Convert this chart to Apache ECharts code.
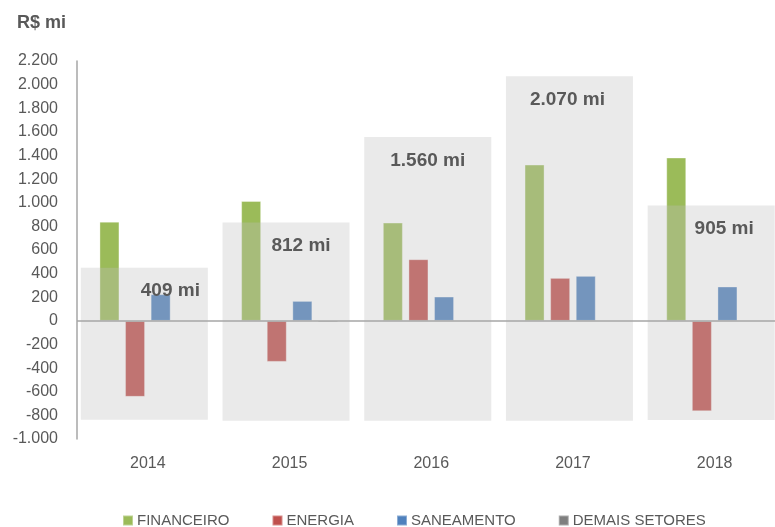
<!DOCTYPE html>
<html>
<head>
<meta charset="utf-8">
<script src="https://cdn.jsdelivr.net/npm/echarts@6/dist/echarts.min.js"></script>
<style>
html,body{margin:0;padding:0;background:#fff;}
#c{width:775px;height:527px;}
</style>
</head>
<body>
<div id="c"></div>
<script>
// ---- data ----
var years = ['2014', '2015', '2016', '2017', '2018'];
var financeiro = [840, 1015, 832, 1323, 1383];
var energia = [-643, -347, 522, 364, -765];
var saneamento = [226, 169, 206, 381, 291];
var demais = [-8, -14, -4, -4, -4];
var boxTop = [450, 832, 1556, 2071, 976];
var boxBottom = [-838, -846, -846, -846, -840];
var boxLabel = [409, 812, 1560, 2070, 905];
var yMin = -1000, yMax = 2200, yStep = 200;

function fmt(v) {
  var neg = v < 0; v = Math.abs(v);
  var s = String(Math.round(v)).replace(/\B(?=(\d{3})+(?!\d))/g, '.');
  return (neg ? '-' : '') + s;
}

var chart = echarts.init(document.getElementById('c'), null, {renderer: 'canvas'});
var FONT = '"Liberation Sans", Arial, sans-serif';
var TXT = '#595959';
var labelDx = [26, 15, 0, -2, 13];
var boxColor = 'rgba(190,190,190,0.33)';
var barBorder = {borderColor: 'rgba(255,255,255,0.35)', borderWidth: 1};

function barSeries(name, data, color, z) {
  return {
    name: name, type: 'bar', data: data, xAxisIndex: 0, yAxisIndex: 0,
    barWidth: 20, barGap: '28%', z: z || 2,
    itemStyle: Object.assign({color: color}, barBorder)
  };
}

var demaisSeries = barSeries('DEMAIS SETORES', demais, '#7F7F7F', 2);
demaisSeries.markLine = {
  silent: true, symbol: 'none', label: {show: false},
  lineStyle: {color: '#A6A6A6', width: 1.5, type: 'solid'},
  data: [{yAxis: 0}]
};

var option = {
  animation: false,
  backgroundColor: '#fff',
  textStyle: {fontFamily: FONT},
  title: {
    text: 'R$ mi', left: 12, top: 9,
    textStyle: {fontFamily: FONT, fontSize: 18, fontWeight: 'bold', color: TXT}
  },
  legend: {
    data: ['FINANCEIRO', 'ENERGIA', 'SANEAMENTO', 'DEMAIS SETORES'],
    left: 117, top: 508, icon: 'rect', itemWidth: 10, itemHeight: 10, itemGap: 42,
    textStyle: {fontFamily: FONT, fontSize: 15, color: TXT, padding: [0, 0, 0, -1]}
  },
  grid: [
    {left: 77, top: 61, width: 708.5, height: 378, containLabel: false, outerBoundsMode: 'none'},
    {left: 73.5, top: 61, width: 708.5, height: 378, containLabel: false, outerBoundsMode: 'none'}
  ],
  xAxis: [
    {
      type: 'category', gridIndex: 0, data: years,
      axisLine: {show: false}, axisTick: {show: false},
      axisLabel: {margin: 17, fontFamily: FONT, fontSize: 16, color: TXT}
    },
    {type: 'category', gridIndex: 1, data: years, show: false}
  ],
  yAxis: [
    {
      type: 'value', gridIndex: 0, min: yMin, max: yMax, interval: yStep,
      axisLine: {show: true, lineStyle: {color: '#A6A6A6', width: 1.5}},
      axisTick: {show: false}, splitLine: {show: false},
      axisLabel: {margin: 19, fontFamily: FONT, fontSize: 16, color: TXT, formatter: fmt}
    },
    {type: 'value', gridIndex: 1, min: yMin, max: yMax, interval: yStep, show: false}
  ],
  series: [
    barSeries('FINANCEIRO', financeiro, '#9BBB59'),
    barSeries('ENERGIA', energia, '#C0504D'),
    barSeries('SANEAMENTO', saneamento, '#4F81BD'),
    demaisSeries,
    {
      name: 'boxTop', type: 'bar', xAxisIndex: 1, yAxisIndex: 1, barWidth: 127, z: 3,
      itemStyle: {color: boxColor},
      data: boxTop.map(function (v, i) {
        return {
          value: v,
          label: {
            show: true, position: 'insideTop', distance: 14, offset: [labelDx[i], 0],
            formatter: fmt(boxLabel[i]) + ' mi',
            fontFamily: FONT, fontSize: 19, fontWeight: 'bold', color: TXT
          }
        };
      })
    },
    {
      name: 'boxBottom', type: 'bar', xAxisIndex: 1, yAxisIndex: 1, barWidth: 127, barGap: '-100%', z: 3,
      itemStyle: {color: boxColor},
      data: boxBottom
    }
  ]
};
chart.setOption(option);
</script>
</body>
</html>
